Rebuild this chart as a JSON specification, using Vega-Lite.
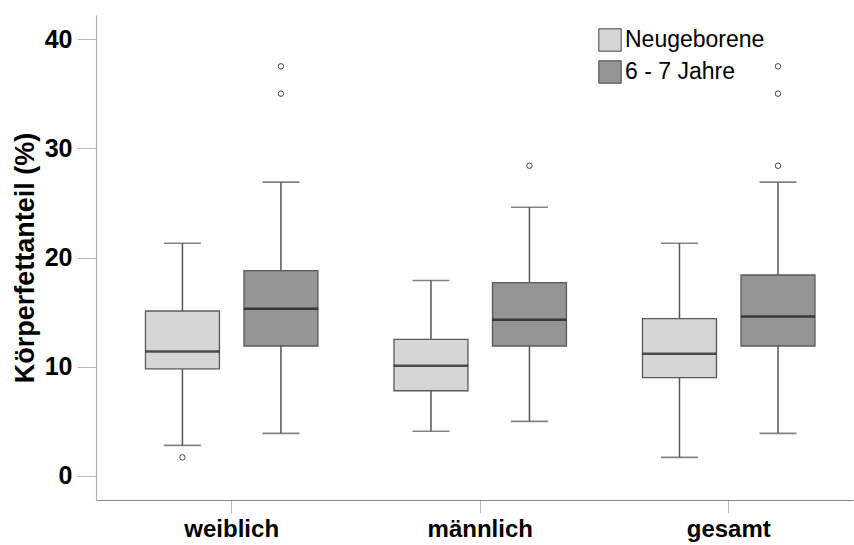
{
  "$schema": "https://vega.github.io/schema/vega-lite/v6.json",
  "width": 757,
  "height": 485,
  "autosize": "none",
  "padding": {"left": 96, "top": 15, "right": 1, "bottom": 45},
  "background": "white",
  "config": {
    "font": "Liberation Sans",
    "view": {"stroke": null},
    "axis": {"grid": false}
  },
  "datasets": {
    "boxes": [
      {"gruppe": "weiblich", "alter": "Neugeborene", "min": 2.8, "q1": 9.8, "median": 11.4, "q3": 15.1, "max": 21.3},
      {"gruppe": "weiblich", "alter": "6 - 7 Jahre", "min": 3.9, "q1": 11.9, "median": 15.3, "q3": 18.8, "max": 26.9},
      {"gruppe": "männlich", "alter": "Neugeborene", "min": 4.1, "q1": 7.8, "median": 10.1, "q3": 12.5, "max": 17.9},
      {"gruppe": "männlich", "alter": "6 - 7 Jahre", "min": 5.0, "q1": 11.9, "median": 14.3, "q3": 17.7, "max": 24.6},
      {"gruppe": "gesamt", "alter": "Neugeborene", "min": 1.7, "q1": 9.0, "median": 11.2, "q3": 14.4, "max": 21.3},
      {"gruppe": "gesamt", "alter": "6 - 7 Jahre", "min": 3.9, "q1": 11.9, "median": 14.6, "q3": 18.4, "max": 26.9}
    ],
    "ausreisser": [
      {"gruppe": "weiblich", "alter": "Neugeborene", "wert": 1.7},
      {"gruppe": "weiblich", "alter": "6 - 7 Jahre", "wert": 37.5},
      {"gruppe": "weiblich", "alter": "6 - 7 Jahre", "wert": 35.0},
      {"gruppe": "männlich", "alter": "6 - 7 Jahre", "wert": 28.4},
      {"gruppe": "gesamt", "alter": "6 - 7 Jahre", "wert": 37.5},
      {"gruppe": "gesamt", "alter": "6 - 7 Jahre", "wert": 35.0},
      {"gruppe": "gesamt", "alter": "6 - 7 Jahre", "wert": 28.4}
    ]
  },
  "encoding": {
    "x": {
      "field": "gruppe",
      "type": "nominal",
      "sort": ["weiblich", "männlich", "gesamt"],
      "scale": {"paddingInner": 0, "paddingOuter": 0.023, "align": 1},
      "axis": {
        "title": null,
        "labelAngle": 0,
        "labelFont": "Liberation Sans",
        "labelFontSize": 24,
        "labelFontWeight": "bold",
        "labelColor": "#000000",
        "labelPadding": 4,
        "tickSize": 13,
        "tickColor": "#b8b8b8",
        "domainColor": "#888888",
        "domainWidth": 1.2
      }
    },
    "xOffset": {
      "field": "alter",
      "type": "nominal",
      "sort": ["Neugeborene", "6 - 7 Jahre"],
      "scale": {"paddingInner": 0.249, "paddingOuter": 0.386}
    }
  },
  "layer": [
    {
      "data": {"name": "boxes"},
      "mark": {"type": "rule", "color": "#555555", "strokeWidth": 1.5},
      "encoding": {
        "y": {
          "field": "min",
          "type": "quantitative",
          "scale": {"domain": [-2.2, 42.2], "nice": false, "zero": false},
          "axis": {
            "title": "Körperfettanteil (%)",
            "titleFont": "Liberation Sans",
            "titleFontSize": 27,
            "titleFontWeight": "bold",
            "titleColor": "#000000",
            "titlePadding": 5,
            "values": [0, 10, 20, 30, 40],
            "labelFont": "Liberation Sans",
            "labelFontSize": 25,
            "labelFontWeight": "bold",
            "labelColor": "#000000",
            "labelPadding": 5,
            "tickSize": 19,
            "tickColor": "#b8b8b8",
            "domainColor": "#b0b0b0",
            "domainWidth": 1.2
          }
        },
        "y2": {"field": "max"}
      }
    },
    {
      "data": {"name": "boxes"},
      "mark": {"type": "tick", "color": "#505050", "thickness": 1.6, "size": 37},
      "encoding": {"y": {"field": "min", "type": "quantitative"}}
    },
    {
      "data": {"name": "boxes"},
      "mark": {"type": "tick", "color": "#505050", "thickness": 1.6, "size": 37},
      "encoding": {"y": {"field": "max", "type": "quantitative"}}
    },
    {
      "data": {"name": "boxes"},
      "mark": {"type": "bar", "stroke": "#5a5a5a", "strokeWidth": 1.3, "opacity": 1},
      "encoding": {
        "y": {"field": "q1", "type": "quantitative"},
        "y2": {"field": "q3"},
        "fill": {
          "field": "alter",
          "type": "nominal",
          "sort": ["Neugeborene", "6 - 7 Jahre"],
          "scale": {"range": ["#d6d6d6", "#949494"]},
          "legend": {
            "title": null,
            "orient": "none",
            "legendX": 502,
            "legendY": 13,
            "padding": 0,
            "symbolType": "square",
            "symbolSize": 500,
            "symbolStrokeColor": "#444444",
            "symbolStrokeWidth": 1,
            "symbolOpacity": 1,
            "labelFont": "Liberation Sans",
            "labelFontSize": 23,
            "labelColor": "#000000",
            "labelOffset": 3,
            "rowPadding": 4
          }
        }
      }
    },
    {
      "data": {"name": "boxes"},
      "mark": {"type": "tick", "color": "#111111", "thickness": 2.5, "size": 74},
      "encoding": {"y": {"field": "median", "type": "quantitative"}}
    },
    {
      "data": {"name": "ausreisser"},
      "mark": {"type": "point", "shape": "circle", "size": 30, "filled": false, "stroke": "#444444", "strokeWidth": 1, "opacity": 1},
      "encoding": {"y": {"field": "wert", "type": "quantitative"}}
    }
  ]
}
